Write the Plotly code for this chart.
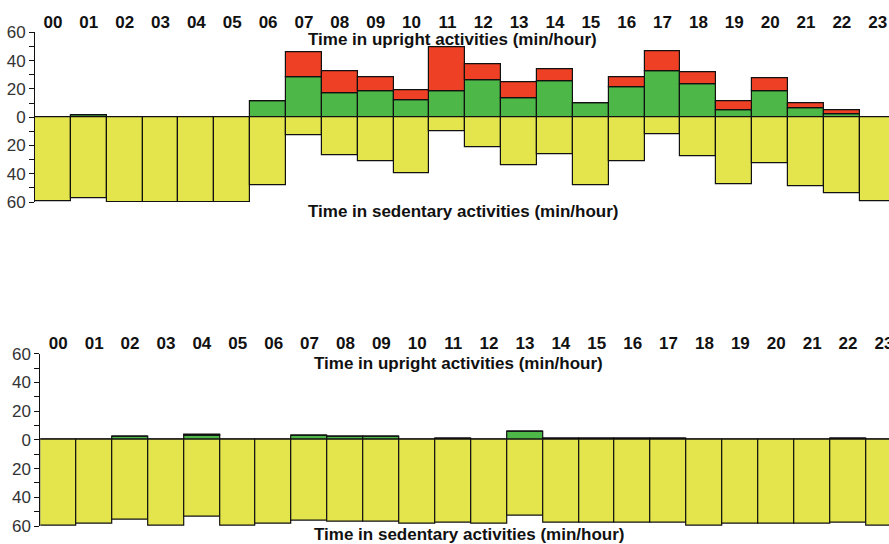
import plotly.graph_objects as go

hours = ["%02d" % h for h in range(24)]

# Top chart (min/hour)
top_green = [0, 1, 0, 0, 0, 0, 11, 28, 17, 18, 12, 18, 26, 13, 25.5, 9.5, 21, 32.3, 23.3, 5, 18.4, 6, 2, 0]
top_red = [0, 0, 0, 0, 0, 0, 0, 18, 15.5, 10.3, 7, 31.5, 11.7, 11.5, 8, 0.4, 7.3, 14.3, 8.2, 6.5, 9.2, 4, 3, 0]
top_sed = [59.5, 57.5, 60, 60, 60, 60, 48.5, 13, 27, 31.4, 39.4, 10, 21, 34, 26, 48, 31.4, 12, 28, 47.4, 32.3, 48.6, 53.7, 59.7]

# Bottom chart (min/hour)
bot_green = [0, 0, 2, 0, 3, 0, 0, 3, 2, 2, 0, 1, 0, 5.5, 1, 1, 1, 1, 0, 0, 0, 0, 1, 0]
bot_red = [0, 0, 0, 0, 0.4, 0, 0, 0, 0, 0, 0, 0, 0, 0.4, 0, 0, 0, 0, 0, 0, 0, 0, 0, 0]
bot_sed = [60, 58.7, 55.7, 60, 53.7, 60, 58.7, 56, 57, 57, 58.7, 57.8, 58.7, 52.7, 57.8, 57.8, 57.8, 57.8, 60, 58.7, 58.7, 58.7, 57.4, 60]

ytick_vals = [-60, -40, -20, 0, 20, 40, 60]
ytick_text = ["60", "40", "20", "0", "20", "40", "60"]

GREEN = "#4DB848"
RED = "#EE4024"
YELLOW = "#E4E44C"
EDGE = dict(color="#111111", width=1.2)

W, H = 889, 544
xi = list(range(24))

fig = go.Figure()

def add_chart(xa, ya, green, red, sed):
    fig.add_trace(go.Bar(x=xi, y=green, marker=dict(color=GREEN, line=EDGE), xaxis=xa, yaxis=ya, width=1))
    fig.add_trace(go.Bar(x=xi, y=red, marker=dict(color=RED, line=EDGE), xaxis=xa, yaxis=ya, width=1))
    fig.add_trace(go.Bar(x=xi, y=[-v for v in sed], marker=dict(color=YELLOW, line=EDGE), xaxis=xa, yaxis=ya, width=1))

add_chart("x", "y", top_green, top_red, top_sed)
add_chart("x2", "y2", bot_green, bot_red, bot_sed)

def px_y(p):
    return 1 - p / H

xaxis_common = dict(
    tickvals=xi, ticktext=hours, side="top", showline=False, showgrid=False, zeroline=False,
    ticks="", tickfont=dict(family="Liberation Sans", size=17, color="#111111", weight="bold"),
    fixedrange=True, automargin=False, ticklabeloverflow="allow",
)
yaxis_common = dict(
    range=[-60, 60], tickvals=ytick_vals, ticktext=ytick_text, showline=True, linecolor="#111111",
    linewidth=1, ticks="outside", ticklen=5, tickcolor="#111111", showgrid=False, zeroline=False,
    minor=dict(dtick=10, tick0=0, ticks="outside", ticklen=5, tickcolor="#111111"),
    tickfont=dict(family="Liberation Sans", size=17, color="#333333"),
    fixedrange=True, automargin=False, ticklabeloverflow="allow",
)

fig.update_layout(
    width=W, height=H,
    margin=dict(l=0, r=0, t=0, b=0, autoexpand=False),
    paper_bgcolor="white", plot_bgcolor="white",
    barmode="relative", bargap=0, showlegend=False,
    xaxis=dict(domain=[35 / W, 1], range=[-0.5, -0.5 + 854 / 35.86], anchor="y", **xaxis_common),
    yaxis=dict(domain=[px_y(202), px_y(32.3)], anchor="x", **yaxis_common),
    xaxis2=dict(domain=[40.3 / W, 1], range=[-0.5, -0.5 + 848.7 / 35.9], anchor="y2", **xaxis_common),
    yaxis2=dict(domain=[px_y(526), px_y(353.7)], anchor="x2", **yaxis_common),
)

title_font = dict(family="Liberation Sans", size=17, color="#111111", weight="bold")
for (xp, yp, txt) in [
    (306, 40, "Time in upright activities (min/hour)"),
    (306, 212, "Time in sedentary activities (min/hour)"),
    (312, 363, "Time in upright activities (min/hour)"),
    (312, 534, "Time in sedentary activities (min/hour)"),
]:
    fig.add_annotation(x=xp / W, y=px_y(yp), xref="paper", yref="paper", text=txt,
                       showarrow=False, xanchor="left", yanchor="middle", font=title_font)

fig.write_html("out.html", config={"displayModeBar": False},
               post_script="document.body.style.margin='0';document.body.style.overflow='hidden';")
